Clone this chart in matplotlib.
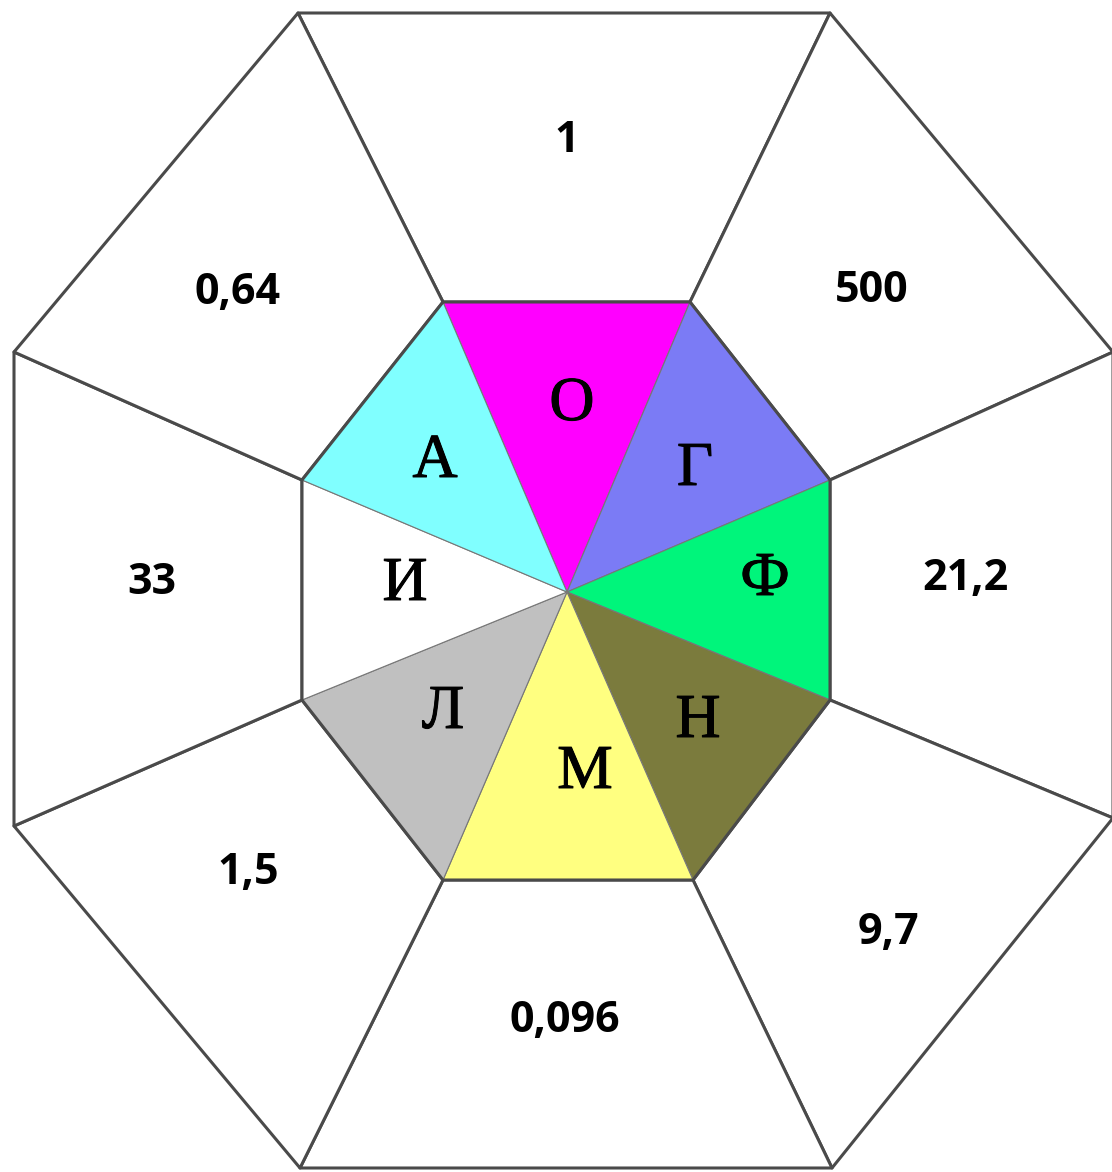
import matplotlib.pyplot as plt
import matplotlib.patheffects as pe
from matplotlib.patches import Polygon

# labels of the inner triangles and outer cells, clockwise from the top
letters = ['О', 'Г', 'Ф', 'Н', 'М', 'Л', 'И', 'А']
values = ['1', '500', '21,2', '9,7', '0,096', '1,5', '33', '0,64']
colors = ['#ff00ff', '#7b7bf5', '#00f57b', '#7b7b3d', '#ffff80', '#c0c0c0', '#ffffff', '#80ffff']

# layout (pixel coords, y down)
outer = [(298, 13), (830, 13), (1113, 352), (1113, 818), (832, 1168), (300, 1168), (14, 826), (14, 352)]
inner = [(443, 302), (690, 302), (830, 480), (830, 700), (693, 880), (443, 880), (302, 700), (302, 480)]
center = (567, 592)
letter_pos = [(572, 405), (695, 470), (765, 580), (698, 722), (585, 773), (443, 713), (405, 585), (435, 462)]
value_pos = [(567, 140), (872, 290), (965, 578), (888, 933), (565, 1020), (248, 873), (152, 582), (238, 292)]

fig = plt.figure(figsize=(11.12, 11.72), dpi=100)
ax = fig.add_axes([0, 0, 1, 1])
ax.set_xlim(0, 1112)
ax.set_ylim(1172, 0)
ax.axis('off')

line = '#4a4a4a'
n = len(letters)
for i in range(n):
    j = (i + 1) % n
    # outer cell
    ax.add_patch(Polygon([inner[i], inner[j], outer[j], outer[i]], closed=True,
                         facecolor='white', edgecolor=line, lw=2.2, joinstyle='round'))
    # inner triangle
    ax.add_patch(Polygon([center, inner[i], inner[j]], closed=True,
                         facecolor=colors[i], edgecolor='#777777', lw=0.8))

# inner octagon border on top
ax.add_patch(Polygon(inner, closed=True, fill=False, edgecolor=line, lw=2.2))

heavy = [pe.withStroke(linewidth=0.7, foreground='black')]
for i in range(n):
    ax.text(*letter_pos[i], letters[i], family='Liberation Serif', fontsize=45,
            ha='center', va='center', color='black', path_effects=heavy)
    ax.text(*value_pos[i], values[i], family=['Open Sans', 'DejaVu Sans'], fontweight='bold',
            fontsize=31, ha='center', va='center', color='black')

fig.savefig('out.png', dpi=100, facecolor='white')
